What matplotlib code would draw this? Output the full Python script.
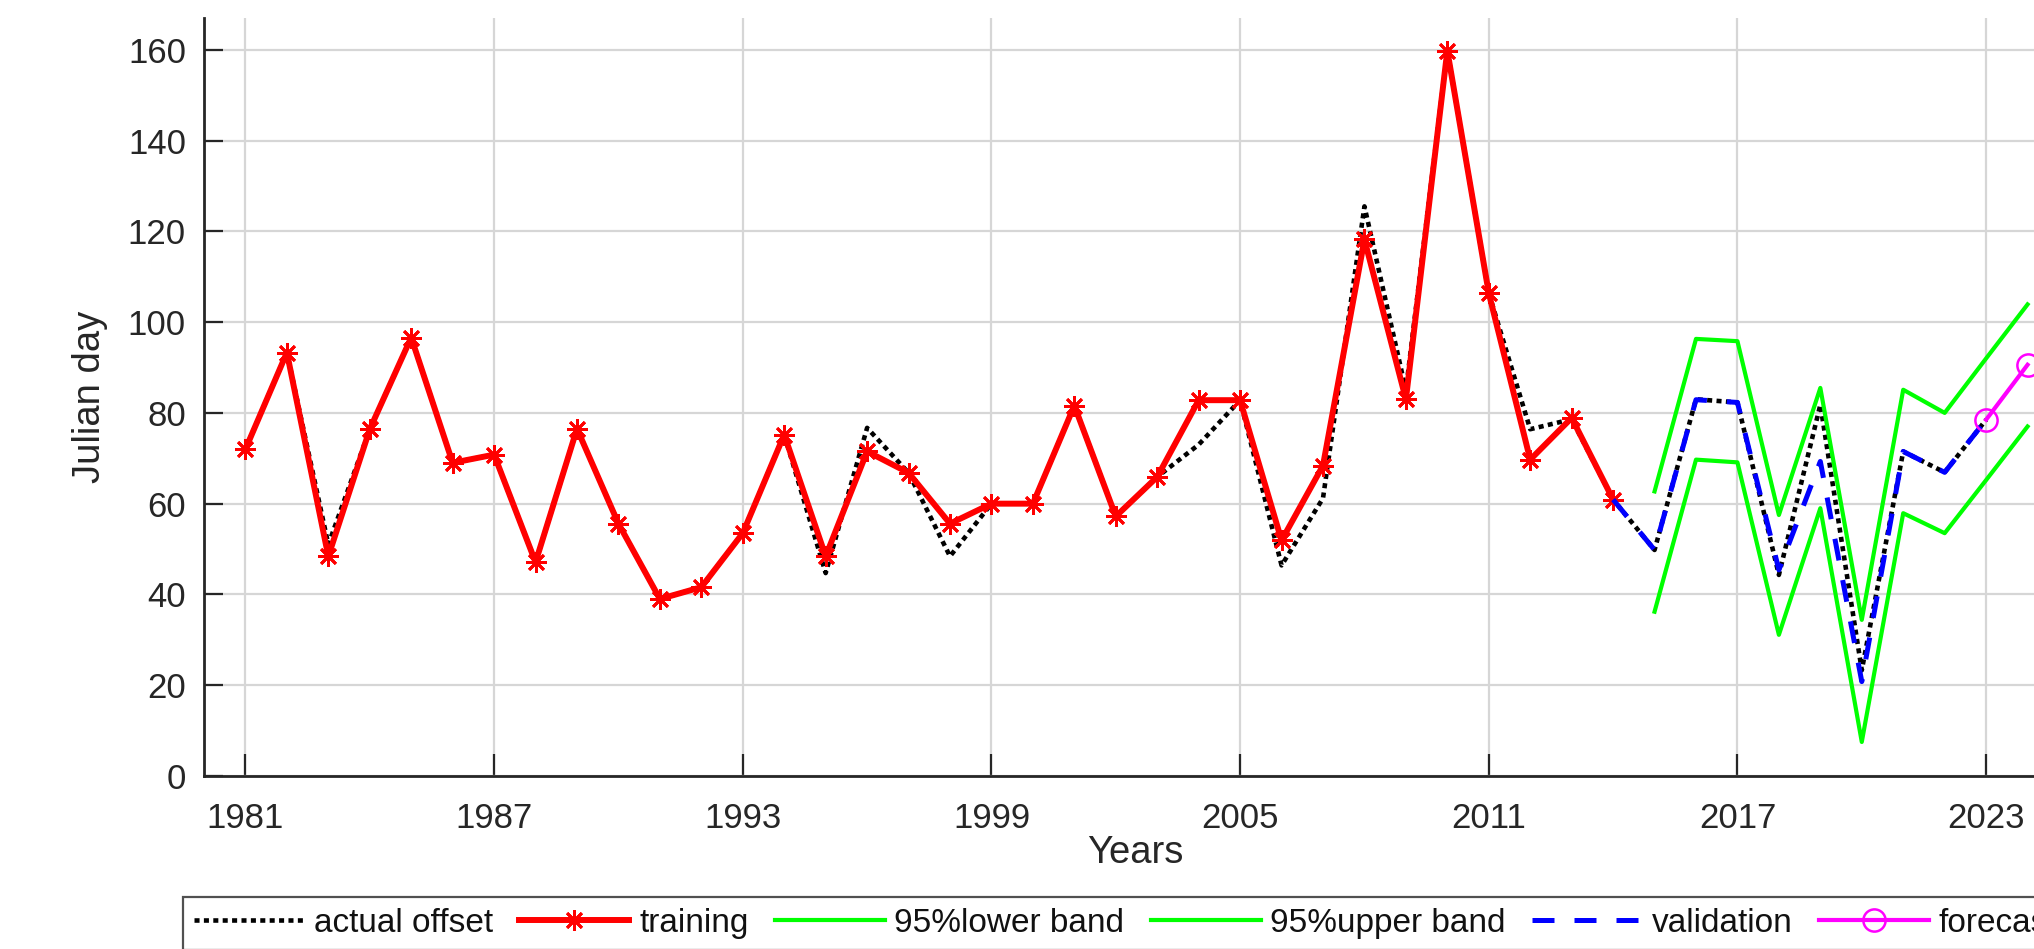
import numpy as np
import matplotlib
matplotlib.use("Agg")
import matplotlib.pyplot as plt

plt.rcParams['font.family'] = ['Liberation Sans', 'DejaVu Sans']

# ---- series (Julian day of offset) ----
years_actual = np.arange(1981, 2024)
actual_offset = [72, 93.3, 51, 76.4, 96.6, 69, 70.8, 47.1, 76.5, 55.6,
                 39, 41.6, 53.5, 75.2, 44.7, 76.7, 66.8, 48.4, 60, 60,
                 81.6, 57.2, 65.9, 73, 82.8, 46.4, 61.2, 125.5, 85, 159.8,
                 106.4, 76.4, 78.6, 60.9, 49.8, 83, 82.3, 44.3, 81.8, 23.3,
                 71.5, 66.9, 78.5]

years_train = np.arange(1981, 2015)
training = [72, 93.3, 48.4, 76.4, 96.6, 69, 70.8, 47.1, 76.5, 55.6,
            39, 41.6, 53.5, 75.2, 48.4, 71.5, 66.8, 55.6, 60, 60,
            81.6, 57.2, 65.9, 82.8, 82.8, 51.9, 68.4, 118.2, 83, 159.8,
            106.4, 69.7, 78.9, 60.9]

years_band = np.arange(2015, 2025)
lower_band = [36.2, 69.7, 69.1, 31.1, 59.0, 7.5, 57.9, 53.5, 65.2, 77.0]
upper_band = [62.7, 96.3, 95.8, 57.5, 85.5, 34.4, 85.1, 80.0, 92.0, 103.9]

years_valid = np.arange(2014, 2024)
validation = [60.9, 49.8, 82.9, 82.3, 45.4, 69.3, 20.8, 71.5, 66.9, 78.5]

years_fc = [2023, 2024]
forecast = [78.5, 90.6]

xticks = np.arange(1981, 2024, 6)
yticks = np.arange(0, 161, 20)

dark = '#262626'

W, H = 2034, 949
fig = plt.figure(figsize=(W / 100, H / 100), dpi=100)
# axes run past the right edge of the canvas
x0, x1, ytop, ybot = 204, 2069, 18, 776
ax = fig.add_axes([x0 / W, (H - ybot) / H, (x1 - x0) / W, (ybot - ytop) / H])

ax.plot(years_actual, actual_offset, color='black', lw=3.3,
        linestyle=(0, (1.1, 0.95)), label='actual offset')
ax.plot(years_train, training, color='#ff0000', lw=4.3, marker=(8, 2, 0),
        ms=15, mew=2.0, label='training')
ax.plot(years_band, lower_band, color='#00ff00', lw=3, label='95%lower band')
ax.plot(years_band, upper_band, color='#00ff00', lw=3, label='95%upper band')
ax.plot(years_valid, validation, color='#0000ff', lw=3.6,
        linestyle=(0, (4.4, 4.0)), label='validation')
ax.plot(years_fc, forecast, color='#ff00ff', lw=3, marker='o', ms=16,
        mfc='none', mew=1.8, label='forecast')

ax.set_xlim(1980, 2025)
ax.set_ylim(0, 167)
ax.set_xticks(xticks)
ax.set_yticks(yticks)

ax.grid(True, color='#d6d6d6', lw=1.6)
ax.set_axisbelow(True)
for s in ('top', 'right'):
    ax.spines[s].set_visible(False)
for s in ('left', 'bottom'):
    ax.spines[s].set_color(dark)
    ax.spines[s].set_linewidth(2.0)

ax.tick_params(axis='x', direction='in', length=16, width=1.6, color=dark,
               labelsize=25, labelcolor=dark, pad=19)
ax.tick_params(axis='y', direction='in', length=14, width=1.6, color=dark,
               labelsize=25, labelcolor=dark, pad=13)

ax.set_xlabel('Years', fontsize=27.5, color=dark)
ax.xaxis.set_label_coords((1135 - x0) / (x1 - x0), -(853 - ybot) / (ybot - ytop))
ax.xaxis.label.set_va('center')
ax.set_ylabel('Julian day', fontsize=27.5, color=dark)
ax.yaxis.set_label_coords((90 - x0) / (x1 - x0), 0.5)
ax.yaxis.label.set_va('center')

leg = ax.legend(loc='upper left', bbox_to_anchor=(183 / W, 1 - 897 / H),
                bbox_transform=fig.transFigure, ncol=6, fontsize=24,
                frameon=True, fancybox=False, borderaxespad=0,
                borderpad=0.33, handlelength=3.3, handletextpad=0.3,
                columnspacing=0.78, numpoints=1)
leg.get_frame().set_edgecolor(dark)
leg.get_frame().set_linewidth(1.6)
for t in leg.get_texts():
    t.set_color('#111111')

fig.savefig('out.png', dpi=100)
